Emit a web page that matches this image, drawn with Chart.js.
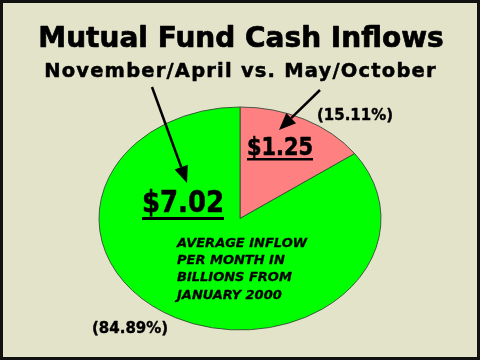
<!DOCTYPE html>
<html>
<head>
<meta charset="utf-8">
<script src="https://cdn.jsdelivr.net/npm/chart.js@4/dist/chart.umd.min.js"></script>
<style>
  html, body { margin: 0; padding: 0; background: #E3E3CA; }
  #wrap { width: 480px; height: 360px; position: relative; }
</style>
</head>
<body>
<div id="wrap"><canvas id="c" width="480" height="360"></canvas></div>
<script>
const categories = ['May/October', 'November/April'];
const values = [1.25, 7.02];
const valueLabels = ['$1.25', '$7.02'];
const percentLabels = ['(15.11%)', '(84.89%)'];
const sliceColors = ['#FF8080', '#00FF00'];
const titleText = 'Mutual Fund Cash Inflows';
const subtitleText = 'November/April vs. May/October';
const noteLines = ['AVERAGE INFLOW', 'PER MONTH IN', 'BILLIONS FROM', 'JANUARY 2000'];

const ELLIPSE = 111.5 / 141;

const squash = {
  id: 'squash',
  beforeDatasetsDraw(chart) {
    const arc = chart.getDatasetMeta(0).data[0];
    const ctx = chart.ctx;
    ctx.save();
    ctx.translate(arc.x, arc.y);
    ctx.scale(1, ELLIPSE);
    ctx.translate(-arc.x, -arc.y);
  },
  afterDatasetsDraw(chart) {
    chart.ctx.restore();
  }
};

const frame = {
  id: 'frame',
  beforeDraw(chart) {
    const ctx = chart.ctx;
    ctx.save();
    ctx.fillStyle = '#E3E3CA';
    ctx.fillRect(0, 0, chart.width, chart.height);
    ctx.restore();
  },
  afterDraw(chart) {
    const ctx = chart.ctx;
    ctx.save();
    ctx.strokeStyle = '#111111';
    ctx.lineWidth = 3;
    ctx.strokeRect(1.5, 1.5, chart.width - 3, chart.height - 3);
    ctx.restore();
  }
};

function arrow(ctx, x1, y1, x2, y2) {
  const ang = Math.atan2(y2 - y1, x2 - x1);
  const hl = 17, hw = 7;
  const bx = x2 - hl * Math.cos(ang), by = y2 - hl * Math.sin(ang);
  ctx.beginPath();
  ctx.moveTo(x1, y1);
  ctx.lineTo(bx, by);
  ctx.lineWidth = 2.5;
  ctx.strokeStyle = '#000';
  ctx.stroke();
  ctx.beginPath();
  ctx.moveTo(x2, y2);
  ctx.lineTo(bx + hw * Math.sin(ang), by - hw * Math.cos(ang));
  ctx.lineTo(bx - hw * Math.sin(ang), by + hw * Math.cos(ang));
  ctx.closePath();
  ctx.fillStyle = '#000';
  ctx.fill();
}

function heavyText(ctx, text, x, y, maxW, sw) {
  ctx.lineWidth = sw;
  ctx.strokeStyle = '#000';
  ctx.lineJoin = 'round';
  if (maxW) { ctx.fillText(text, x, y, maxW); ctx.strokeText(text, x, y, maxW); }
  else { ctx.fillText(text, x, y); ctx.strokeText(text, x, y); }
}

function underlined(ctx, text, x, y, maxW, lw, off) {
  heavyText(ctx, text, x, y, maxW, 0.6);
  const w = Math.min(ctx.measureText(text).width, maxW);
  ctx.fillRect(x, y + off, w, lw);
}

const texts = {
  id: 'texts',
  afterDraw(chart) {
    const ctx = chart.ctx;
    ctx.save();
    ctx.fillStyle = '#000';
    ctx.textBaseline = 'alphabetic';
    ctx.textAlign = 'center';
    ctx.font = 'bold 28px "DejaVu Sans"';
    heavyText(ctx, titleText, 241, 47, 412, 0.7);
    ctx.font = 'bold 19.5px "DejaVu Sans"';
    ctx.letterSpacing = '1.2px';
    heavyText(ctx, subtitleText, 240.5, 77, 396, 0.5);
    ctx.letterSpacing = '0px';

    ctx.textAlign = 'left';
    ctx.font = 'bold 24px "DejaVu Sans"';
    underlined(ctx, valueLabels[0], 247, 155, 66, 2.5, 3);
    ctx.font = 'bold 30px "DejaVu Sans"';
    underlined(ctx, valueLabels[1], 142, 212, 82, 3, 5);

    ctx.font = 'bold 15px "DejaVu Sans"';
    heavyText(ctx, percentLabels[0], 317, 120, 76, 0.4);
    heavyText(ctx, percentLabels[1], 92, 333, 78, 0.4);

    ctx.font = 'italic bold 13px "DejaVu Sans"';
    noteLines.forEach((l, i) => heavyText(ctx, l, 177, 247 + i * 17.2, 0, 0.3));

    arrow(ctx, 152, 87, 187, 183);
    arrow(ctx, 320, 90, 279, 130);
    ctx.restore();
  }
};

new Chart(document.getElementById('c'), {
  type: 'pie',
  data: {
    labels: categories,
    datasets: [{
      data: values,
      backgroundColor: sliceColors,
      borderColor: '#3a4a3a',
      borderWidth: 1,
      radius: 141
    }]
  },
  options: {
    responsive: false,
    animation: false,
    layout: { padding: { top: 77, bottom: 0, left: 0, right: 0 } },
    plugins: { legend: { display: false }, tooltip: { enabled: false }, title: { display: false } },
    events: []
  },
  plugins: [frame, squash, texts]
});
</script>
</body>
</html>
